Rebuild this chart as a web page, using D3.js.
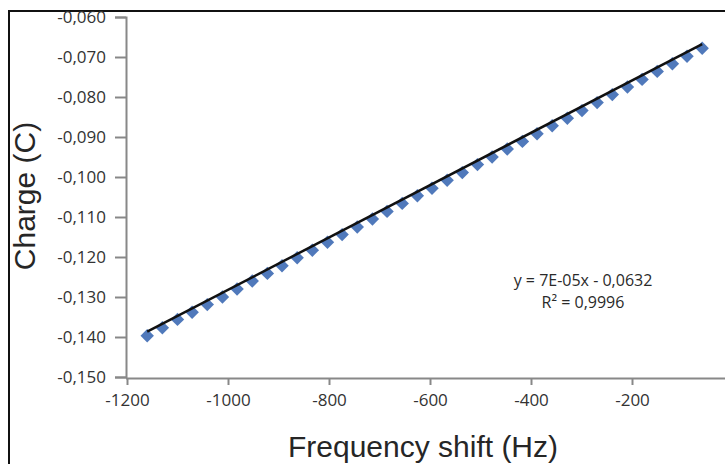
<!DOCTYPE html>
<html>
<head>
<meta charset="utf-8">
<script src="https://cdn.jsdelivr.net/npm/d3@7"></script>
<style>
  body { margin: 0; background: #fff; }
  .tick-label { font-family: "Open Sans", sans-serif; font-size: 17px; fill: #333; }
  .axis-title { font-family: "Liberation Sans", Arial, sans-serif; font-size: 30px; fill: #262626; }
  .fit-label { font-family: "Open Sans", sans-serif; font-size: 16px; fill: #2a2a2a; }
</style>
</head>
<body>
<div id="chart-holder"></div>
<script>
// measured points (frequency shift in Hz, charge in C)
var freqShift = [-1160, -1130, -1100, -1071, -1041, -1011, -982, -952, -922, -893,
  -863, -833, -803, -774, -744, -714, -685, -655, -625, -596,
  -566, -536, -506, -477, -447, -417, -388, -358, -328, -299,
  -269, -239, -209, -180, -150, -120, -91, -61];
var charge = [-0.1397, -0.1377, -0.1356, -0.1338, -0.1319, -0.1300, -0.1280, -0.1260, -0.1241, -0.1222,
  -0.1202, -0.1183, -0.1163, -0.1144, -0.1125, -0.1105, -0.1086, -0.1066, -0.1047, -0.1028,
  -0.1008, -0.0989, -0.0969, -0.0950, -0.0930, -0.0911, -0.0892, -0.0872, -0.0853, -0.0834,
  -0.0814, -0.0794, -0.0775, -0.0756, -0.0736, -0.0717, -0.0698, -0.0678];

// trend line as drawn
var trendSlope = 6.54e-5;
var trendIntercept = -0.0628;
var equationLines = ["y = 7E-05x - 0,0632", "R\u00B2 = 0,9996"];

var xTicks = [-1200, -1000, -800, -600, -400, -200, 0];
var yTicks = [-0.15, -0.14, -0.13, -0.12, -0.11, -0.10, -0.09, -0.08, -0.07, -0.06];

var data = freqShift.map(function(f, i) {
  return { x: f, y: charge[i] };
});

var width = 725, height = 464;

var svg = d3.select("#chart-holder")
  .append("svg")
  .attr('width', width)
  .attr('height', height);

// outer frame (cropped on the right and bottom)
svg.append("rect")
  .attr('x', 9)
  .attr('y', 11)
  .attr('width', 800)
  .attr('height', 600)
  .attr('fill', 'none')
  .attr('stroke', '#111')
  .attr('stroke-width', 2);

var x = d3.scaleLinear().domain([-1200, 0]).range([127, 733]);
var y = d3.scaleLinear().domain([-0.15, -0.06]).range([377, 17]);

var comma = function(d) {
  return d3.format(".3f")(d).replace(".", ",").replace("\u2212", "-");
};

// y axis
var yAxis = svg.append("g")
  .attr('transform', 'translate(126,0)')
  .call(d3.axisLeft(y).tickValues(yTicks).tickSize(11).tickPadding(9).tickFormat(comma));

// x axis
var xAxis = svg.append("g")
  .attr('transform', 'translate(0,378)')
  .call(d3.axisBottom(x).tickValues(xTicks).tickSize(7).tickPadding(9)
    .tickFormat(function(d) { return d3.format("d")(d).replace("\u2212", "-"); }));

[xAxis, yAxis].forEach(function(ax) {
  ax.select(".domain").attr('stroke', '#888').attr('stroke-width', 2);
  ax.selectAll(".tick line").attr('stroke', '#888').attr('stroke-width', 2);
  ax.selectAll(".tick text").attr('class', 'tick-label').attr('fill', null);
  ax.attr('font-family', null).attr('font-size', null);
});
xAxis.select(".domain").attr('d', 'M126,0.5H760');

// markers
var diamond = d3.symbol().type(d3.symbolSquare).size(90);
svg.selectAll("path.marker")
  .data(data)
  .enter()
  .append("path")
  .attr('class', 'marker')
  .attr('d', diamond)
  .attr('transform', function(d) {
    return 'translate(' + x(d.x) + ',' + y(d.y) + ') rotate(45)';
  })
  .attr('fill', '#5079bb');

// linear trend line
var xExtent = d3.extent(freqShift);
var trend = xExtent.map(function(f) {
  return { x: f, y: trendSlope * f + trendIntercept };
});
svg.append("path")
  .datum(trend)
  .attr('d', d3.line().x(function(d) { return x(d.x); }).y(function(d) { return y(d.y); }))
  .attr('stroke', '#111')
  .attr('stroke-width', 2.5)
  .attr('fill', 'none');

// equation label
svg.selectAll("text.fit-label")
  .data(equationLines)
  .enter()
  .append("text")
  .attr('class', 'fit-label')
  .attr('x', 583)
  .attr('y', function(d, i) { return 286 + i * 22; })
  .attr('text-anchor', 'middle')
  .text(function(d) { return d; });

// axis titles
svg.append("text")
  .attr('class', 'axis-title')
  .attr('x', 423)
  .attr('y', 457)
  .attr('text-anchor', 'middle')
  .text("Frequency shift (Hz)");

svg.append("text")
  .attr('class', 'axis-title')
  .attr('transform', 'translate(35,196) rotate(-90)')
  .attr('text-anchor', 'middle')
  .text("Charge (C)");
</script>
</body>
</html>
